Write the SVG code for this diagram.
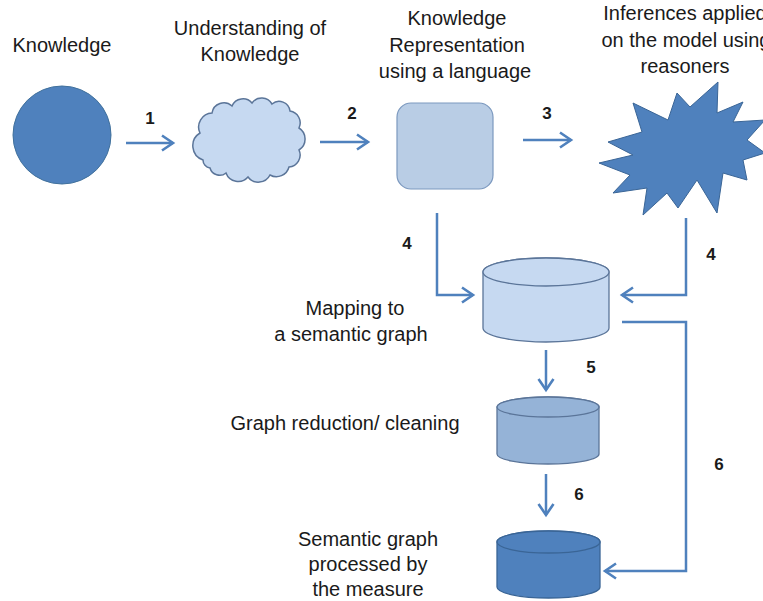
<svg xmlns="http://www.w3.org/2000/svg" width="763" height="601" viewBox="0 0 763 601">
<defs>
<style>
.t{font-family:"Liberation Sans",Arial,sans-serif;font-size:20px;fill:#1a1a1a;text-anchor:middle}
.n{font-family:"Liberation Sans",Arial,sans-serif;font-size:17px;font-weight:bold;fill:#1a1a1a;text-anchor:middle}
.c{fill:none;stroke:#4f81bd;stroke-width:2.5}
</style>
<marker id="ah" markerUnits="userSpaceOnUse" markerWidth="16" markerHeight="18" viewBox="0 0 16 18" refX="13" refY="9" orient="auto">
<path d="M2,1.5 L13,9 L2,16.5" fill="none" stroke="#4f81bd" stroke-width="2.6"/>
</marker>
</defs>
<rect width="763" height="601" fill="#ffffff"/>

<g id="knowledge">
<circle cx="62" cy="135" r="49" fill="#4f81bd" stroke="#41719c" stroke-width="1"/>
<text class="t" x="62" y="52">Knowledge</text>
</g>

<g id="understanding">
<path d="M203,160 A15,15 0 0 1 200,133 A14,14 0 0 1 212,113 A12,12 0 0 1 232,106 A12,12 0 0 1 252,103 A12,12 0 0 1 272,104 A11,11 0 0 1 290,111 A12,12 0 0 1 299,128 A13,13 0 0 1 299,150 A12,12 0 0 1 289,167 A13,13 0 0 1 270,175 A13,13 0 0 1 248,177 A13,13 0 0 1 226,173 A10,10 0 0 1 210,168 A8,8 0 0 1 203,160 Z" fill="#c6d9f1" stroke="#5b7599" stroke-width="1.5"/>
<text class="t" x="250" y="35">Understanding of</text>
<text class="t" x="250" y="61">Knowledge</text>
</g>

<g id="representation">
<rect x="397" y="103" width="96" height="86" rx="14" ry="14" fill="#b9cde5" stroke="#7c99bf" stroke-width="1.2"/>
<text class="t" x="457" y="25">Knowledge</text>
<text class="t" x="457" y="52">Representation</text>
<text class="t" x="455" y="78">using a language</text>
</g>

<g id="inferences">
<polygon points="599,163 633,155 608,142 642,132 633,103 668,120 677,93 690,107 718,82 717,113 743,102 733,122 765,120 747,140 765,153 743,160 747,180 723,173 717,213 697,180 678,208 667,193 643,215 647,188 613,193 630,175" fill="#4f81bd" stroke="#3a6596" stroke-width="1"/>
<text class="t" x="685" y="20">Inferences applied</text>
<text class="t" x="686" y="47">on the model using</text>
<text class="t" x="685" y="73">reasoners</text>
</g>

<g id="mapping">
<path d="M483,272 L483,328 A63,14 0 0 0 609,328 L609,272 A63,14 0 0 0 483,272 Z" fill="#c6d9f1" stroke="#5b7599" stroke-width="1.3"/>
<ellipse cx="546" cy="272" rx="63" ry="14" fill="#c6d9f1" stroke="#5b7599" stroke-width="1.3"/>
<text class="t" x="355" y="315">Mapping to</text>
<text class="t" x="351" y="341">a semantic graph</text>
</g>

<g id="reduction">
<path d="M497,407 L497,454 A51,10 0 0 0 599,454 L599,407 A51,10 0 0 0 497,407 Z" fill="#95b3d7" stroke="#5b7599" stroke-width="1.3"/>
<ellipse cx="548" cy="407" rx="51" ry="10" fill="#95b3d7" stroke="#5b7599" stroke-width="1.3"/>
<text class="t" x="345" y="430">Graph reduction/ cleaning</text>
</g>

<g id="processed">
<path d="M497,542 L497,587 A51.5,11 0 0 0 600,587 L600,542 A51.5,11 0 0 0 497,542 Z" fill="#4f81bd" stroke="#3a6596" stroke-width="1.3"/>
<ellipse cx="548.5" cy="542" rx="51.5" ry="11" fill="#4f81bd" stroke="#3a6596" stroke-width="1.3"/>
<text class="t" x="368" y="546">Semantic graph</text>
<text class="t" x="368" y="571">processed by</text>
<text class="t" x="368" y="596">the measure</text>
</g>

<g id="connectors">
<path class="c" d="M126,143 L173,143" marker-end="url(#ah)"/>
<path class="c" d="M320,142 L368,142" marker-end="url(#ah)"/>
<path class="c" d="M523,140 L571,140" marker-end="url(#ah)"/>
<path class="c" d="M437,213 L437,295 L473,295" marker-end="url(#ah)"/>
<path class="c" d="M686,218 L686,295 L622,295" marker-end="url(#ah)"/>
<path class="c" d="M546,350 L546,390" marker-end="url(#ah)"/>
<path class="c" d="M546,474 L546,515" marker-end="url(#ah)"/>
<path class="c" d="M622,322 L686,322 L686,571 L605,571" marker-end="url(#ah)"/>
<text class="n" x="150" y="124">1</text>
<text class="n" x="352" y="119">2</text>
<text class="n" x="547" y="119">3</text>
<text class="n" x="407" y="249">4</text>
<text class="n" x="711" y="260">4</text>
<text class="n" x="591" y="373">5</text>
<text class="n" x="579" y="500">6</text>
<text class="n" x="719" y="470">6</text>
</g>
</svg>
